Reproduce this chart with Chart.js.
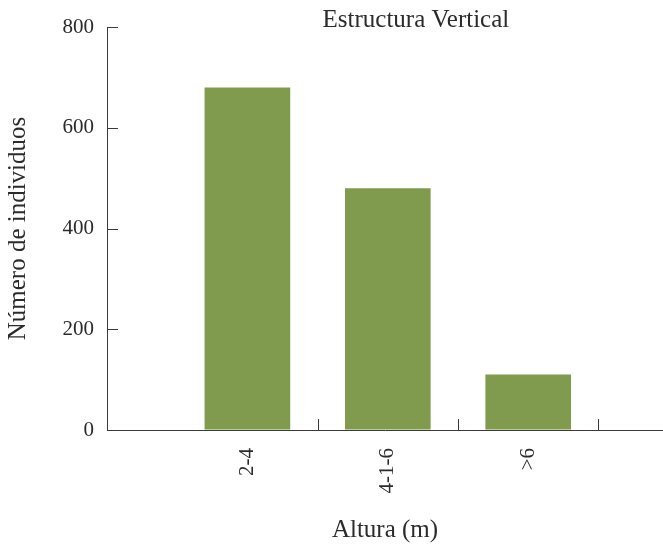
<!DOCTYPE html>
<html>
<head>
<meta charset="utf-8">
<script src="https://cdn.jsdelivr.net/npm/chart.js@4/dist/chart.umd.min.js"></script>
<style>
  html, body { margin: 0; padding: 0; background: #ffffff; }
  #wrap { width: 663px; height: 545px; position: relative; }
</style>
</head>
<body>
<div id="wrap"><canvas id="c"></canvas></div>
<script>
// ---- data ----
const categories = ["2-4", "4-1-6", ">6"];
const categoryPositions = [1, 2, 3];
const values = [680, 480, 110];
const yTickValues = [0, 200, 400, 600, 800];
const xTickMarkPositions = [1.5, 2.5, 3.5];
const chartTitle = "Estructura Vertical";
const xTitle = "Altura (m)";
const yTitle = "Número de individuos";

const FONT = "'Liberation Serif', 'Times New Roman', serif";
const TEXT = "#2b2b2b";
const AXIS = "#3a3a3a";

const innerTicks = {
  id: 'innerTicks',
  afterDraw(chart) {
    const ctx = chart.ctx;
    const x = chart.scales.x, y = chart.scales.y;
    ctx.save();
    ctx.strokeStyle = AXIS;
    ctx.lineWidth = 1;
    const len = 11;
    yTickValues.forEach(v => {
      if (v === 0) return;
      const py = Math.round(y.getPixelForValue(v)) + 0.5;
      ctx.beginPath();
      ctx.moveTo(x.left, py);
      ctx.lineTo(x.left + len, py);
      ctx.stroke();
    });
    xTickMarkPositions.forEach(v => {
      const px = Math.round(x.getPixelForValue(v)) + 0.5;
      ctx.beginPath();
      ctx.moveTo(px, y.bottom);
      ctx.lineTo(px, y.bottom - len);
      ctx.stroke();
    });
    // title
    ctx.fillStyle = TEXT;
    ctx.font = "25px " + FONT;
    ctx.textAlign = 'center';
    ctx.textBaseline = 'alphabetic';
    ctx.fillText(chartTitle, x.getPixelForValue(2.2), 27);
    ctx.restore();
  }
};

new Chart(document.getElementById('c'), {
  type: 'bar',
  data: {
    datasets: [{
      data: categoryPositions.map((p, i) => ({ x: p, y: values[i] })),
      backgroundColor: '#809b4d',
      borderWidth: 0,
      barPercentage: 0.61,
      categoryPercentage: 1.0
    }]
  },
  options: {
    responsive: true,
    maintainAspectRatio: false,
    animation: false,
    layout: { padding: { top: 27, right: 0, left: 0, bottom: 0 } },
    plugins: {
      legend: { display: false },
      tooltip: { enabled: false },
      title: { display: false }
    },
    scales: {
      x: {
        type: 'linear',
        offset: false,
        min: 0,
        max: 3.96,
        afterBuildTicks: (s) => { s.ticks = categoryPositions.map(v => ({ value: v })); },
        afterFit: (s) => { s.height = 115; },
        grid: { display: true, drawOnChartArea: false, drawTicks: false, offset: false },
        border: { display: true, color: AXIS, width: 1 },
        ticks: {
          minRotation: 90,
          maxRotation: 90,
          padding: 18,
          color: TEXT,
          font: { family: FONT, size: 21 },
          callback: (v) => {
            const i = categoryPositions.indexOf(v);
            return i >= 0 ? categories[i] : '';
          }
        },
        title: {
          display: true,
          text: xTitle,
          color: TEXT,
          font: { family: FONT, size: 25 },
          padding: { top: 0, bottom: 0 }
        }
      },
      y: {
        min: 0,
        max: 800,
        afterBuildTicks: (s) => { s.ticks = yTickValues.map(v => ({ value: v })); },
        afterFit: (s) => { s.width = 107; },
        grid: { display: true, drawOnChartArea: false, drawTicks: false },
        border: { display: true, color: AXIS, width: 1 },
        ticks: {
          padding: 13,
          color: TEXT,
          font: { family: FONT, size: 21 }
        },
        title: {
          display: true,
          text: yTitle,
          color: TEXT,
          font: { family: FONT, size: 25 },
          padding: { top: 3, bottom: 0 }
        }
      }
    }
  },
  plugins: [innerTicks]
});
</script>
</body>
</html>
